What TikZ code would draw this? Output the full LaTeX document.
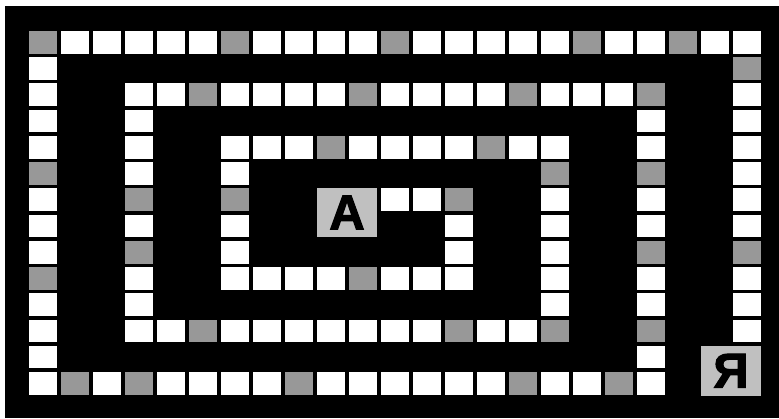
\documentclass[tikz,border=0pt]{standalone}
\usepackage{fontspec}
\newfontfamily\boardfont{Liberation Sans Bold}[FakeBold=2.2]
\definecolor{boardgray}{RGB}{152,152,152}
\definecolor{endgray}{RGB}{192,192,192}
\tikzset{
  wsq/.style={rectangle,minimum width=28pt,minimum height=22.7pt,inner sep=0pt,fill=white,draw=none},
  gsq/.style={wsq,fill=boardgray},
  endbox/.style={rectangle,minimum width=60pt,minimum height=49.5pt,inner sep=0pt,fill=endgray,
    font=\boardfont\fontsize{49}{49}\selectfont,text=black}
}
% row #1, columns #2..#3, grey columns #4
\newcommand\boardrow[4]{%
  \foreach \c in {#2,...,#3}{%
    \gdef\sqstyle{wsq}%
    \foreach \g in {#4}{\ifnum\c=\g\relax\gdef\sqstyle{gsq}\fi}%
    \node[\sqstyle] (s-#1-\c) at ({43+32*\c},{42.35+26.23*#1}) {};
  }}
% column #1, rows #2..#3, grey rows #4
\newcommand\boardcol[4]{%
  \foreach \r in {#2,...,#3}{%
    \gdef\sqstyle{wsq}%
    \foreach \g in {#4}{\ifnum\r=\g\relax\gdef\sqstyle{gsq}\fi}%
    \node[\sqstyle] (s-\r-#1) at ({43+32*#1},{42.35+26.23*\r}) {};
  }}
\begin{document}
\begin{tikzpicture}[x=1pt,y=-1pt]
\useasboundingbox (0,0) rectangle (779,418);
\fill[black] (5,6) rectangle (779,418);
% outer ring
\boardrow{0}{0}{22}{0,6,11,17,20}
\boardcol{22}{1}{11}{1,8}
\boardcol{0}{1}{13}{5,9}
\boardrow{13}{1}{19}{1,3,8,15,18}
\boardcol{19}{2}{12}{2,5,8,11}
% second ring
\boardrow{2}{3}{18}{5,10,15}
\boardcol{3}{3}{11}{6,8}
\boardrow{11}{4}{16}{5,13,16}
\boardcol{16}{4}{10}{5}
% third ring
\boardrow{4}{6}{15}{9,14}
\boardcol{6}{5}{9}{6}
\boardrow{9}{7}{13}{10}
\boardcol{13}{6}{8}{6}
\boardrow{6}{11}{12}{-1}
% start and end
\node[endbox] (start) at (347,212.5) {А};
\node[endbox] (finish) at (731,370.8) {Я};
\end{tikzpicture}
\end{document}
